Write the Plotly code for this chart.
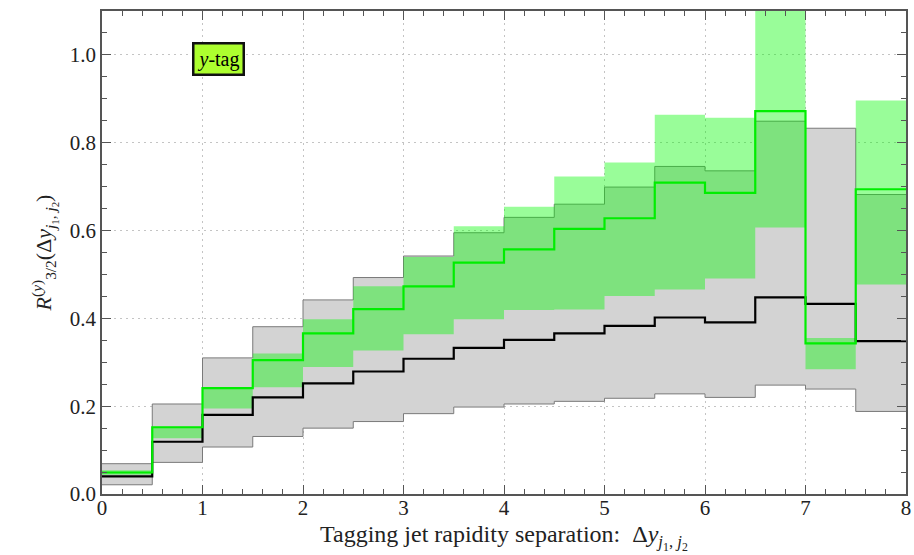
import plotly.graph_objects as go

# bin edges of the rapidity-separation histogram
edges = [0.0, 0.5, 1.0, 1.5, 2.0, 2.5, 3.0, 3.5, 4.0, 4.5, 5.0, 5.5, 6.0, 6.5, 7.0, 7.5, 8.0]

# black (reference) prediction: central value and band
black_central = [0.040, 0.119, 0.180, 0.220, 0.252, 0.279, 0.308, 0.333, 0.351, 0.366,
                 0.383, 0.402, 0.391, 0.448, 0.433, 0.348]
black_upper = [0.069, 0.205, 0.310, 0.381, 0.442, 0.493, 0.542, 0.595, 0.630, 0.660,
               0.699, 0.746, 0.736, 0.849, 0.833, 0.682]
black_lower = [0.021, 0.072, 0.107, 0.131, 0.150, 0.165, 0.183, 0.198, 0.205, 0.211,
               0.218, 0.228, 0.220, 0.248, 0.239, 0.188]

# green prediction: central value and band
green_central = [0.049, 0.152, 0.241, 0.305, 0.366, 0.421, 0.473, 0.527, 0.557, 0.604,
                 0.628, 0.709, 0.686, 0.872, 0.343, 0.694]
green_upper = [0.054, 0.153, 0.243, 0.320, 0.398, 0.473, 0.540, 0.610, 0.654, 0.723,
               0.755, 0.864, 0.857, 1.150, 0.355, 0.896]
green_lower = [0.044, 0.127, 0.195, 0.243, 0.289, 0.327, 0.364, 0.398, 0.419, 0.420,
               0.451, 0.466, 0.491, 0.607, 0.284, 0.477]

x_title = "Tagging jet rapidity separation:  Δ<i>y</i><sub><i>j</i><sub>1</sub>, <i>j</i><sub>2</sub></sub>"
y_title = "<i>R</i><sup>(<i>y</i>)</sup><sub>3/2</sub>(Δ<i>y</i><sub><i>j</i><sub>1</sub>, <i>j</i><sub>2</sub></sub>)"
tag_label = "<i>y</i>-tag"


def ext(v):
    return list(v) + [v[-1]]


fig = go.Figure()
# gray band
fig.add_trace(go.Scatter(x=edges, y=ext(black_lower), mode="lines", line_shape="hv",
                         line=dict(color="#7a7a7a", width=1), showlegend=False, hoverinfo="skip"))
fig.add_trace(go.Scatter(x=edges, y=ext(black_upper), mode="lines", line_shape="hv",
                         line=dict(color="#7a7a7a", width=1), fill="tonexty",
                         fillcolor="#d3d3d3", showlegend=False, hoverinfo="skip"))
# green band
fig.add_trace(go.Scatter(x=edges, y=ext(green_lower), mode="lines", line_shape="hv",
                         line=dict(color="rgba(0,255,0,0)", width=0), showlegend=False, hoverinfo="skip"))
fig.add_trace(go.Scatter(x=edges, y=ext(green_upper), mode="lines", line_shape="hv",
                         line=dict(color="rgba(0,255,0,0)", width=0), fill="tonexty",
                         fillcolor="rgba(0,250,0,0.40)", showlegend=False, hoverinfo="skip"))
# central lines
fig.add_trace(go.Scatter(x=edges, y=ext(black_central), mode="lines", line_shape="hv",
                         line=dict(color="black", width=2.2), showlegend=False))
fig.add_trace(go.Scatter(x=edges, y=ext(green_central), mode="lines", line_shape="hv",
                         line=dict(color="#00ee00", width=2.2), showlegend=False))

font_family = "Liberation Serif, DejaVu Serif, serif"

axis_common = dict(
    showline=True, linecolor="#555", linewidth=1.5, mirror="allticks",
    ticks="inside", ticklen=9, tickcolor="#555", tickwidth=1.2,
    showgrid=True, gridcolor="#c4c4c4", griddash="2px,4px", gridwidth=1,
    zeroline=False, automargin=False,
    tickfont=dict(family=font_family, size=21, color="#222"),
)

fig.update_xaxes(range=[0, 8], dtick=1, tick0=0, ticklabelstandoff=-6,
                 minor=dict(dtick=0.2, ticks="inside", ticklen=5, tickcolor="#555", showgrid=False),
                 **axis_common)
fig.update_yaxes(range=[0, 1.1], dtick=0.2, tick0=0, tickformat=".1f",
                 minor=dict(dtick=0.05, ticks="inside", ticklen=5, tickcolor="#555", showgrid=False),
                 title=dict(text=y_title,
                            font=dict(family=font_family, size=22, color="#222"), standoff=12),
                 **axis_common)

# x-axis title placed explicitly below the tick labels
fig.add_annotation(x=0.5, y=-0.128, xref="paper", yref="paper", xanchor="center", yanchor="bottom",
                   text=x_title, showarrow=False,
                   font=dict(family=font_family, size=24, color="#222"))

fig.add_annotation(x=1.42, y=0.99, xref="x", yref="y", xanchor="right", text=tag_label, showarrow=False,
                   font=dict(family=font_family, size=20, color="black"),
                   bgcolor="#adff2f", bordercolor="#111", borderwidth=2.5, borderpad=3)

fig.update_layout(width=914, height=555, margin=dict(l=102, r=8, t=11, b=61),
                  plot_bgcolor="white", paper_bgcolor="white")

fig.write_html("out.html", config={"displayModeBar": False},
               post_script="document.body.style.margin='0';document.body.style.overflow='hidden';")
